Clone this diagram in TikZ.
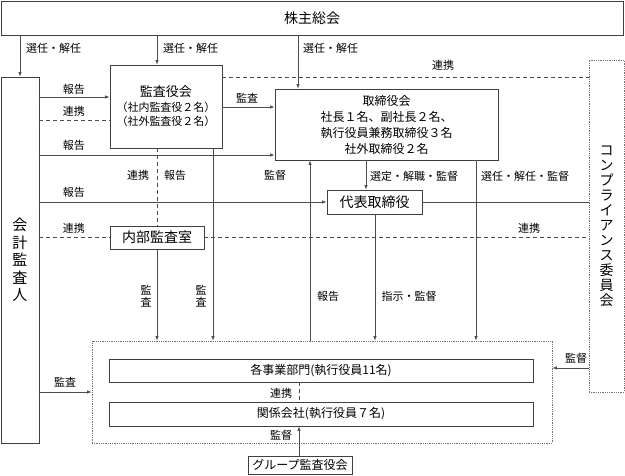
\documentclass[tikz,border=0pt]{standalone}
\usepackage{fontspec}
\setmainfont{Noto Sans CJK JP}
\usetikzlibrary{arrows.meta}

\begin{document}
\begin{tikzpicture}[x=1pt, y=-1pt,
    box/.style={draw=black!75, line width=0.9pt, inner sep=0pt, align=center},
    dotbox/.style={draw=black!55, densely dotted, line width=0.8pt, inner sep=0pt},
    ln/.style={draw=black!70, line width=0.7pt},
    arr/.style={ln, -{Latex[length=4.5pt,width=3.5pt]}},
    dsh/.style={ln, dash pattern=on 4pt off 3pt},
    lbl/.style={font=\fontsize{11}{12}\selectfont, inner sep=0pt},
    vlbl/.style={font=\fontsize{11}{12}\selectfont, inner sep=0pt, align=center},
    big/.style={font=\fontsize{14}{15}\selectfont}]
    \useasboundingbox (0,0) rectangle (625,475);

    \node[box, big, minimum width=622pt, minimum height=34pt] (kabu) at (312,18) {株主総会};
    \node[box, align=center, minimum width=38pt, minimum height=366pt,
        font=\fontsize{15}{17.5}\selectfont] (kaikei) at (20,260) {会\\計\\監\\査\\人};
    \node[box, minimum width=112pt, minimum height=83pt, font=\fontsize{11}{14.5}\selectfont]
        (kansayaku) at (166,106.5) {{\fontsize{13}{14.5}\selectfont 監査役会}\\（社内監査役２名）\\（社外監査役２名）};
    \node[box, minimum width=223pt, minimum height=71pt, font=\fontsize{12}{16}\selectfont]
        (torishimari) at (386.5,124.5) {取締役会\\社長１名、副社長２名、\\執行役員兼務取締役３名\\社外取締役２名};
    \node[box, big, minimum width=95pt, minimum height=24pt] (daihyo) at (374.5,202) {代表取締役};
    \node[box, big, minimum width=94pt, minimum height=23pt] (naibu) at (157,237.5) {内部監査室};
    \node[dotbox, align=center, minimum width=35pt, minimum height=332pt,
        font=\fontsize{14}{15}\selectfont] (comp) at (606.5,226) {コ\\ン\\プ\\ラ\\イ\\ア\\ン\\ス\\委\\員\\会};
    \node[dotbox, minimum width=460pt, minimum height=102pt] (grp) at (322,392) {};
    \node[box, minimum width=424pt, minimum height=23pt, font=\fontsize{12}{13}\selectfont]
        (jigyo) at (321,370.5) {各事業部門(執行役員11名)};
    \node[box, minimum width=424pt, minimum height=24pt, font=\fontsize{12}{13}\selectfont]
        (kankei) at (321,414) {関係会社(執行役員７名)};
    \node[box, minimum width=104pt, minimum height=18pt, font=\fontsize{12}{13}\selectfont]
        (gkansa) at (300,465) {グループ監査役会};

    \coordinate (p157) at (157,0);
    \coordinate (p213) at (213,0);
    \coordinate (p298) at (298,0);
    \coordinate (p299) at (299,0);
    \coordinate (p310) at (310,0);
    \coordinate (p366) at (366,0);
    \coordinate (p375) at (375,0);
    \coordinate (p476) at (476,0);
    \coordinate (q77) at (0,77);
    \coordinate (q97) at (0,97);
    \coordinate (q107) at (0,107);
    \coordinate (q120) at (0,120);
    \coordinate (q155) at (0,155);
    \coordinate (q368) at (0,368);

    \draw[arr] (kabu.south -| kaikei.north) -- (kaikei.north);
    \draw[arr] (kabu.south -| p157) -- (kansayaku.north -| p157);
    \draw[arr] (kabu.south -| p298) -- (torishimari.north -| p298);
    \draw[arr] (kaikei.east |- q97) -- (kansayaku.west |- q97);
    \draw[dsh] (kaikei.east |- q120) -- (kansayaku.west |- q120);
    \draw[arr] (kaikei.east |- q155) -- (torishimari.west |- q155);
    \draw[arr] (kansayaku.east |- q107) -- (torishimari.west |- q107);
    \draw[dsh] (kansayaku.east |- q77) -- (comp.west |- q77);
    \draw[dsh] (kansayaku.south -| p157) -- (naibu.north -| p157);
    \draw[arr] (naibu.south -| p157) -- (grp.north -| p157);
    \draw[arr] (kansayaku.south -| p213) -- (grp.north -| p213);
    \draw[arr] (grp.north -| p310) -- (torishimari.south -| p310);
    \draw[arr] (kaikei.east |- daihyo.west) -- (daihyo.west);
    \draw[ln] (daihyo.east) -- (comp.west |- daihyo.east);
    \draw[dsh] (kaikei.east |- naibu.west) -- (naibu.west);
    \draw[dsh] (naibu.east) -- (comp.west |- naibu.east);
    \draw[arr] (torishimari.south -| p366) -- (daihyo.north -| p366);
    \draw[arr] (torishimari.south -| p476) -- (grp.north -| p476);
    \draw[arr] (daihyo.south -| p375) -- (grp.north -| p375);
    \draw[arr] (kaikei.east |- grp.west) -- (grp.west);
    \draw[arr] (comp.west |- q368) -- (grp.east |- q368);
    \draw[dsh] (jigyo.south -| p299) -- (kankei.north -| p299);
    \draw[arr] (gkansa.north -| p299) -- (kankei.south -| p299);

    \node[lbl, anchor=west] (sn1) at (26,48) {選任・解任};
    \node[lbl, anchor=west] (sn2) at (163,48) {選任・解任};
    \node[lbl, anchor=west] (sn3) at (303,48) {選任・解任};
    \node[lbl] (hk1) at (74,89) {報告};
    \node[lbl] (rk1) at (74,111) {連携};
    \node[lbl] (hk2) at (74,145) {報告};
    \node[lbl] (ks1) at (247,98) {監査};
    \node[lbl] (rk2) at (443,65) {連携};
    \node[lbl] (rk3) at (138,175) {連携};
    \node[lbl] (hk3) at (175,175) {報告};
    \node[lbl] (kt1) at (275,175) {監督};
    \node[lbl] (hk4) at (74,192) {報告};
    \node[lbl] (rk4) at (74,228) {連携};
    \node[lbl] (rk5) at (529,228) {連携};
    \node[lbl, anchor=west] (sk1) at (370,176) {選定・解職・監督};
    \node[lbl, anchor=west] (sk2) at (481,176) {選任・解任・監督};
    \node[vlbl] (ks2) at (146,296) {監\\査};
    \node[vlbl] (ks3) at (201,296) {監\\査};
    \node[lbl] (hk5) at (328,296) {報告};
    \node[lbl] (sj1) at (409,296) {指示・監督};
    \node[lbl] (ks4) at (65,382) {監査};
    \node[lbl] (kt2) at (576,358) {監督};
    \node[lbl] (rk6) at (281,393) {連携};
    \node[lbl] (kt3) at (281,435) {監督};
\end{tikzpicture}
\end{document}
